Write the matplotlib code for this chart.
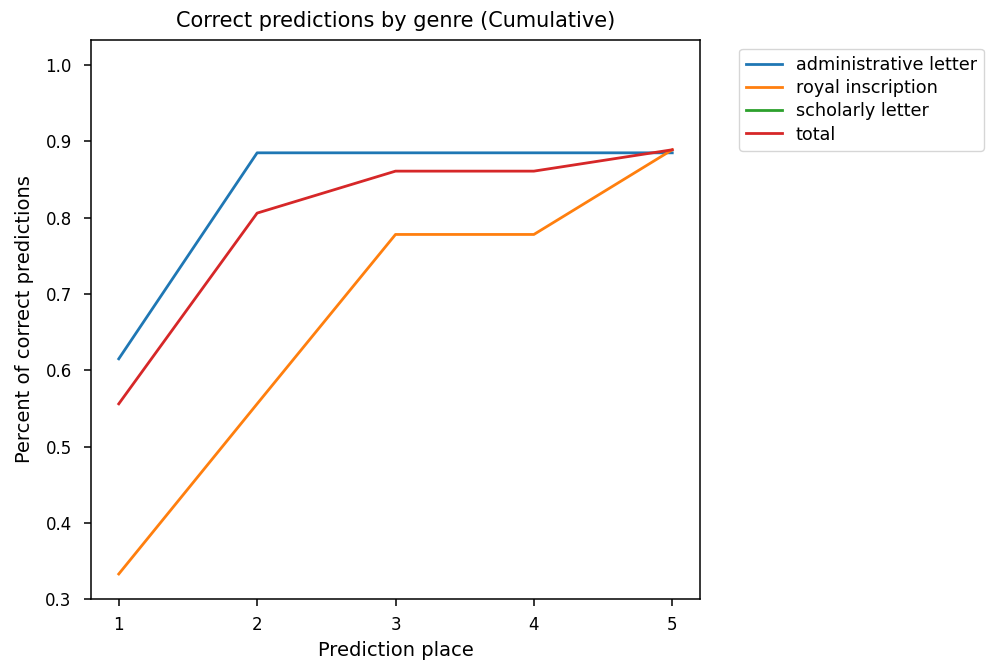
import numpy as np
import matplotlib
matplotlib.use("Agg")
import matplotlib.pyplot as plt

places = [1, 2, 3, 4, 5]
admin_letter = [0.615, 0.885, 0.885, 0.885, 0.885]
royal_inscription = [0.333, 0.556, 0.778, 0.778, 0.889]
scholarly_letter = [np.nan, np.nan, np.nan, np.nan, np.nan]  # not visible in chart
total = [0.556, 0.806, 0.861, 0.861, 0.889]

plt.rcParams["axes.linewidth"] = 1.1
plt.rcParams["lines.linewidth"] = 2.0

fig = plt.figure(figsize=(9.9, 6.65), dpi=100)
ax = fig.add_axes([0.092, 0.099, 0.615, 0.841])
ax.plot(places, admin_letter, label="administrative letter")
ax.plot(places, royal_inscription, label="royal inscription")
ax.plot(places, scholarly_letter, label="scholarly letter")
ax.plot(places, total, label="total")
ax.set_xticks(places)
ax.set_xlim(0.8, 5.2)
ax.set_ylim(0.3, 1.033)
ax.tick_params(axis="both", labelsize=12, length=5, width=1.1)
ax.tick_params(axis="x", pad=7)
ax.tick_params(axis="y", pad=9)
ax.set_title("Correct predictions by genre (Cumulative)", fontsize=15, pad=9)
ax.set_xlabel("Prediction place", fontsize=14, labelpad=5)
ax.set_ylabel("Percent of correct predictions", fontsize=14, labelpad=8)
ax.legend(bbox_to_anchor=(1.05, 1), loc="upper left", fontsize=12.7,
          labelspacing=0.3)
fig.savefig("out.png")
